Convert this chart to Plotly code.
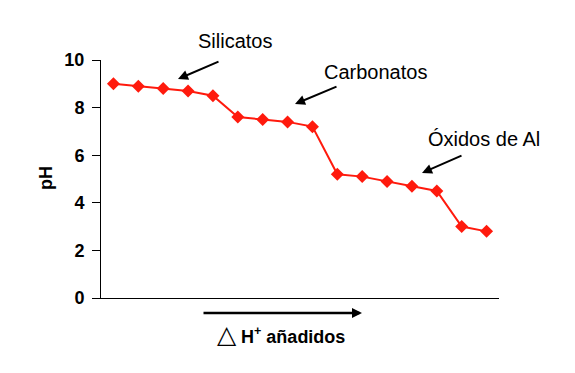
import plotly.graph_objects as go

steps = list(range(1, 17))
ph_values = [9.0, 8.9, 8.8, 8.7, 8.5, 7.6, 7.5, 7.4, 7.2, 5.2, 5.1, 4.9, 4.7, 4.5, 3.0, 2.8]
y_ticks = [0, 2, 4, 6, 8, 10]
labels = ["Silicatos", "Carbonatos", "Óxidos de Al"]

FONT = "Liberation Sans, Arial, sans-serif"

fig = go.Figure()
fig.add_trace(go.Scatter(
    x=steps, y=ph_values, mode="lines+markers",
    line=dict(color="#ff1a0d", width=2),
    marker=dict(symbol="diamond", size=10, color="#ff1a0d"),
    showlegend=False, hoverinfo="skip",
))

# page offset from default body margin
OFF = 8
L, R, T, B = 101, 499, 60, 298
W, H = R - L, B - T


def px(x):
    return (x - L) / W


def py(y):
    return (B - y) / H


annotations = []
text_pos = [(235, 41), (375, 72), (484, 139)]
arrows = [((178, 79), (220, 61)), ((295, 104), (338, 86)), ((422, 173), (463, 155))]
for lab, (tx, ty), ((hx, hy), (sx, sy)) in zip(labels, text_pos, arrows):
    annotations.append(dict(
        text=lab, x=px(tx), y=py(ty), xref="paper", yref="paper",
        xanchor="center", yanchor="middle", showarrow=False,
        font=dict(family=FONT, size=20, color="black"),
    ))
    annotations.append(dict(
        text="", x=px(hx), y=py(hy), xref="paper", yref="paper",
        ax=sx - hx, ay=sy - hy, showarrow=True, arrowhead=2,
        arrowsize=1, arrowwidth=2, arrowcolor="black",
    ))

annotations.append(dict(
    text="", x=px(362), y=py(313), xref="paper", yref="paper",
    ax=-160, ay=0, showarrow=True, arrowhead=2, arrowsize=0.8,
    arrowwidth=2.5, arrowcolor="black",
))
annotations.append(dict(
    text="<span style='font-size:25px;font-weight:normal'>△</span> H<sup>+</sup> añadidos",
    x=px(281), y=py(334), xref="paper", yref="paper",
    xanchor="center", yanchor="middle", showarrow=False,
    font=dict(family=FONT, size=18, color="black", weight="bold"),
))
annotations.append(dict(
    text="pH", x=px(46), y=py(178), xref="paper", yref="paper",
    xanchor="center", yanchor="middle", showarrow=False, textangle=-90,
    font=dict(family=FONT, size=18, color="black", weight="bold"),
))

fig.update_layout(
    width=575 - OFF, height=373 - OFF,
    margin=dict(l=L - OFF, r=575 - R, t=T - OFF, b=373 - B, pad=0),
    plot_bgcolor="white", paper_bgcolor="white",
    annotations=annotations,
    xaxis=dict(range=[0.5, 16.5], showgrid=False, zeroline=False,
               showline=True, linecolor="black", linewidth=1,
               showticklabels=False, ticks=""),
    yaxis=dict(range=[0, 10], tickvals=y_ticks, showgrid=False, zeroline=False,
               showline=True, linecolor="black", linewidth=1,
               ticks="outside", ticklen=8, tickcolor="black", tickwidth=1,
               ticklabelstandoff=4,
               tickfont=dict(family=FONT, size=18, color="black", weight="bold")),
)

fig.write_html("out.html")
